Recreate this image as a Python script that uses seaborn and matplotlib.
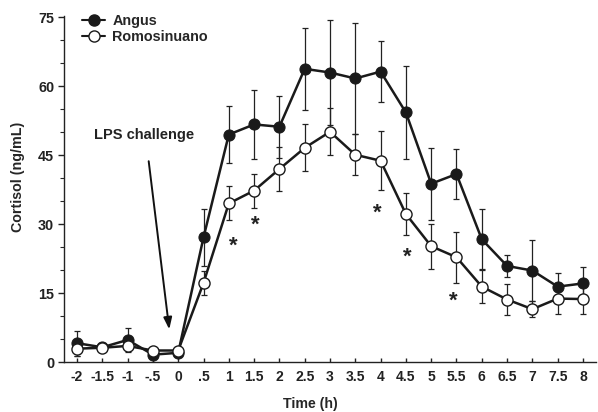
import numpy as np
import pandas as pd
import matplotlib
matplotlib.use("Agg")
import matplotlib.pyplot as plt
import seaborn as sns
from matplotlib.lines import Line2D
from matplotlib.ticker import MultipleLocator

time = [-2, -1.5, -1, -0.5, 0, 0.5, 1, 1.5, 2, 2.5, 3, 3.5, 4, 4.5, 5, 5.5, 6, 6.5, 7, 7.5, 8]
tick_labels = ["-2", "-1.5", "-1", "-.5", "0", ".5", "1", "1.5", "2", "2.5", "3", "3.5",
               "4", "4.5", "5", "5.5", "6", "6.5", "7", "7.5", "8"]
angus = [4.1, 3.2, 4.8, 1.6, 2.0, 27.1, 49.5, 51.7, 51.2, 63.8, 63.0, 61.7, 63.2, 54.3,
         38.8, 40.9, 26.7, 20.9, 19.9, 16.4, 17.1]
angus_se = [2.7, 0.5, 2.7, 0.4, 0.4, 6.2, 6.3, 7.6, 6.7, 8.9, 11.5, 12.1, 6.6, 10.1,
            7.8, 5.5, 6.5, 2.4, 6.6, 2.9, 3.6]
romo = [2.9, 3.1, 3.5, 2.5, 2.5, 17.2, 34.5, 37.3, 42.0, 46.6, 50.1, 45.1, 43.8, 32.2,
        25.2, 22.8, 16.4, 13.6, 11.5, 13.8, 13.7]
romo_se = [1.5, 0.5, 0.8, 0.5, 0.5, 2.6, 3.7, 3.7, 4.8, 5.1, 5.1, 4.5, 6.4, 4.5,
           4.9, 5.5, 3.6, 3.3, 1.8, 3.3, 3.2]
star_x = [1.08, 1.52, 3.94, 4.52, 5.44]
star_y = [25.1, 29.8, 32.3, 22.9, 13.3]

sns.set_style("ticks")
plt.rcParams['font.family'] = ['Liberation Sans', 'DejaVu Sans']
plt.rcParams['font.weight'] = 'bold'

fig = plt.figure(figsize=(5.98, 4.12), dpi=100)
ax = fig.add_axes([64/598, 50/412, (596-64)/598, (362-16)/412])

df_a = pd.DataFrame({"time": time, "cortisol": angus})
df_r = pd.DataFrame({"time": time, "cortisol": romo})

ax.errorbar(time, angus, yerr=angus_se, fmt='none', ecolor='#222222', elinewidth=0.9,
            capsize=2.2, capthick=0.9, zorder=1)
ax.errorbar(time, romo, yerr=romo_se, fmt='none', ecolor='#222222', elinewidth=0.9,
            capsize=2.2, capthick=0.9, zorder=1)
sns.lineplot(data=df_a, x="time", y="cortisol", ax=ax, color='#1a1a1a', lw=1.8,
             marker='o', markersize=8, markerfacecolor='#1a1a1a', markeredgecolor='#1a1a1a',
             zorder=3)
sns.lineplot(data=df_r, x="time", y="cortisol", ax=ax, color='#1a1a1a', lw=1.8,
             marker='o', markersize=8, markerfacecolor='white', markeredgecolor='#1a1a1a',
             markeredgewidth=1.0, zorder=4)

for sx, sy in zip(star_x, star_y):
    ax.text(sx, sy, "*", ha='center', va='center', fontsize=16, fontweight='bold', color='#222222')

ax.annotate("", xy=(-0.17, 6.5), xytext=(-0.59, 44.3),
            arrowprops=dict(arrowstyle='-|>,head_length=0.7,head_width=0.25', color='#111111', lw=1.4))
ax.text(-0.67, 49.3, "LPS challenge", ha='center', va='center', fontsize=10.5, fontweight='bold',
        color='#222222')

ax.set_xlim(-2.257, 8.257)
ax.set_ylim(0, 75.3)
ax.set_xticks(time)
ax.set_xticklabels(tick_labels)
ax.set_yticks([0, 15, 30, 45, 60, 75])
ax.yaxis.set_minor_locator(MultipleLocator(5))
ax.tick_params(axis='x', direction='in', length=3, width=1, labelsize=10, pad=6, colors='#222222')
ax.tick_params(axis='y', which='major', direction='out', length=4, width=1, labelsize=10.4,
               pad=3, colors='#222222')
ax.tick_params(axis='y', which='minor', direction='out', length=3, width=0.8)
for lab in ax.get_xticklabels() + ax.get_yticklabels():
    lab.set_fontweight('bold')
sns.despine(ax=ax)
for s in ['left', 'bottom']:
    ax.spines[s].set_linewidth(1.0)
    ax.spines[s].set_color('#222222')

ax.set_xlabel("Time (h)", fontsize=10.2, fontweight='bold')
ax.set_ylabel("Cortisol (ng/mL)", fontsize=10.3, fontweight='bold')
ax.xaxis.set_label_coords(0.463, -0.101)
ax.yaxis.set_label_coords(-0.073, 0.536)

handles = [
    Line2D([], [], color='#1a1a1a', lw=1.5, marker='o', markersize=8,
           markerfacecolor='#1a1a1a', markeredgecolor='#1a1a1a'),
    Line2D([], [], color='#1a1a1a', lw=1.5, marker='o', markersize=8,
           markerfacecolor='white', markeredgecolor='#1a1a1a'),
]
leg = ax.legend(handles, ["Angus", "Romosinuano"], loc='upper left',
                bbox_to_anchor=(0.0094, 1.043), frameon=False, handlelength=1.6,
                handletextpad=0.5, labelspacing=0.15, prop={'weight': 'bold', 'size': 10.4})

fig.savefig("out.png", dpi=100)
